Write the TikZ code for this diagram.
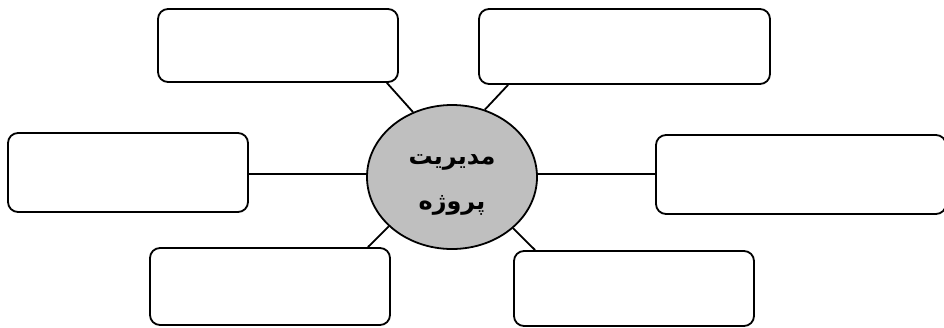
\documentclass[tikz,border=0pt]{standalone}
\usepackage{fontspec}
\usepackage{tikz}
\usetikzlibrary{shapes.geometric}
\TeXXeTstate=1
\newfontfamily\farsifont[Script=Arabic]{DejaVu Sans}

\begin{document}
\begin{tikzpicture}[x=1bp, y=1bp,
    box/.style={draw, line width=1.8bp, rounded corners=10bp},
    hub/.style={draw, ellipse, line width=1.8bp, fill=black!25, minimum width=170bp, minimum height=144bp, inner sep=0pt},
    link/.style={line width=1.8bp}]
          \useasboundingbox (0,0) rectangle (944,-327);
          \node[hub] (hub) at (452,-177) {};
          \node[align=center, font=\farsifont\bfseries\fontsize{24}{46}\selectfont] (title) at (452,-185) {\beginR مدیریت\endR\\\beginR پروژه\endR};
          \node[box, minimum width=240bp, minimum height=73bp] (tl) at (278,-45.5) {};
          \node[box, minimum width=291bp, minimum height=75bp] (tr) at (624.5,-46.5) {};
          \node[box, minimum width=240bp, minimum height=79bp] (ml) at (128,-172.5) {};
          \node[box, minimum width=290bp, minimum height=79bp] (mr) at (801,-174.5) {};
          \node[box, minimum width=240bp, minimum height=77bp] (bl) at (270,-286.5) {};
          \node[box, minimum width=240bp, minimum height=75bp] (br) at (634,-288.5) {};
          \draw[link] ([xshift=-12bp]tl.south east) -- (hub.121);
          \draw[link] ([xshift=30bp]tr.south west) -- (hub.64);
          \draw[link] (ml.east |- 0,-174) -- (hub.west |- 0,-174);
          \draw[link] (hub.east |- 0,-174) -- (mr.west |- 0,-174);
          \draw[link] (hub.218) -- ([xshift=-23bp]bl.north east);
          \draw[link] (hub.320) -- ([xshift=22bp]br.north west);
        \end{tikzpicture}
\end{document}
